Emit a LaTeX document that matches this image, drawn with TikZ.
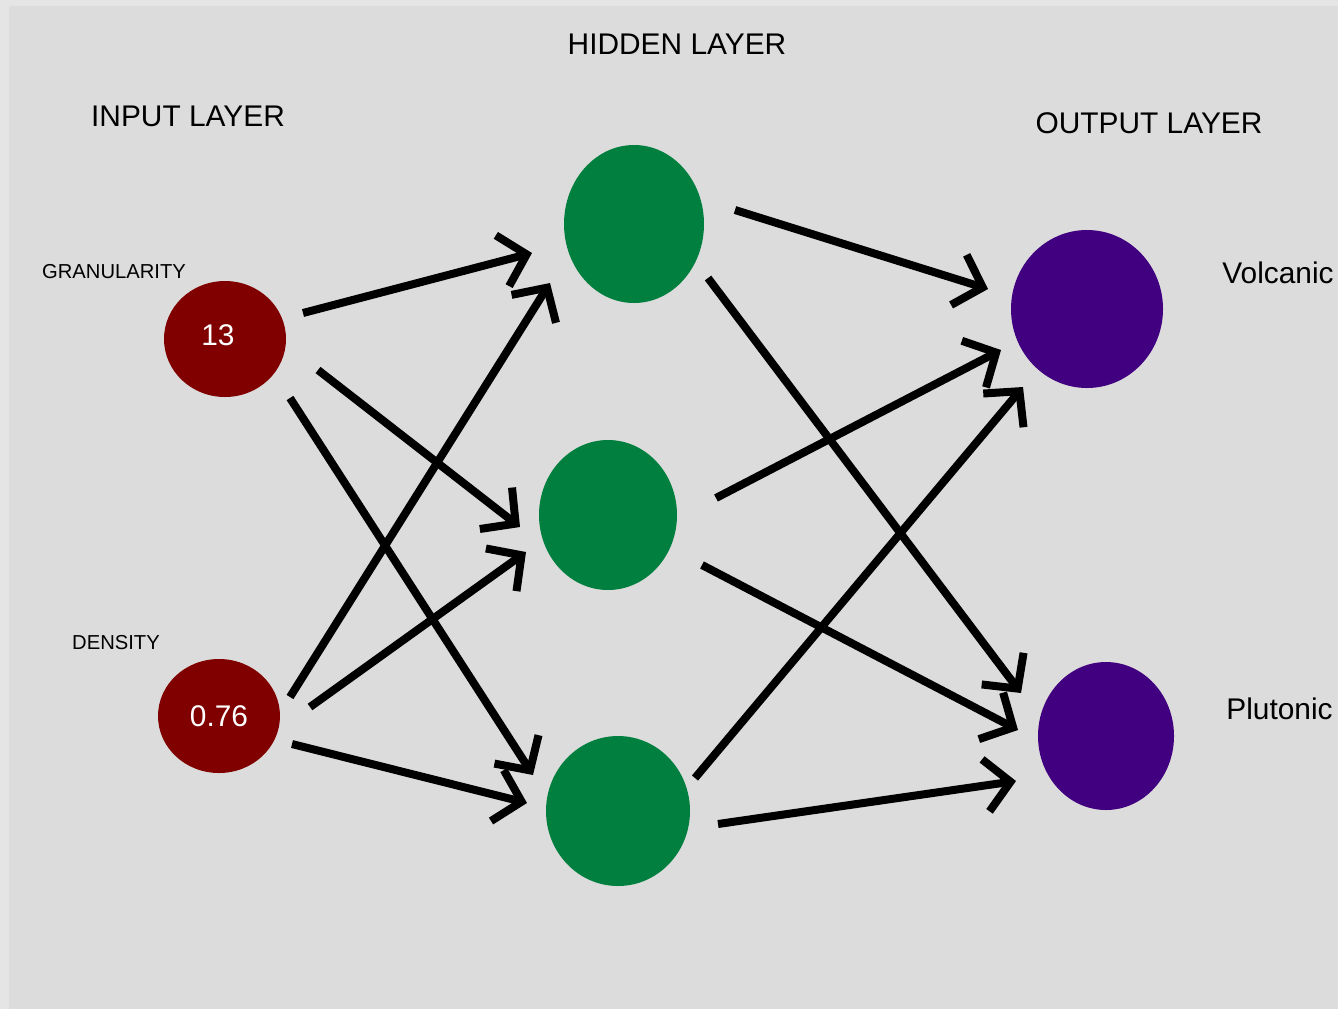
\documentclass[tikz,border=0pt]{standalone}
\usepackage{fontspec}
\setmainfont{Liberation Sans}
\usetikzlibrary{shapes.geometric,arrows.meta,calc}
\definecolor{bgray}{HTML}{DCDCDC}
\definecolor{bedge}{HTML}{E5E5E5}
\definecolor{inred}{HTML}{800000}
\definecolor{hidgreen}{HTML}{007F3F}
\definecolor{outpurple}{HTML}{40007F}
\newcommand{\bigtxt}{\fontsize{17}{20}\selectfont}
\newcommand{\smalltxt}{\fontsize{11.5}{13}\selectfont}
\begin{document}
\begin{tikzpicture}[x=0.02cm,y=-0.02cm,
	neuron/.style={ellipse,inner sep=0pt,draw=none},
	inp/.style={neuron,fill=inred,text=white,font=\bigtxt},
	hid/.style={neuron,fill=hidgreen},
	outp/.style={neuron,fill=outpurple},
	title/.style={inner sep=0pt,font=\bigtxt},
	conn/.style={line width=0.16cm,-{Straight Barb[length=0.5cm,width=1.05cm]}}]
	\useasboundingbox (0,0) rectangle (1338,1008);
	% background
	\fill[bgray] (-10,-10) rectangle (1350,1020);
	\fill[bedge] (-10,-10) rectangle (9,1020);
	\fill[bedge] (-10,-10) rectangle (1350,6);
	% titles
	\node[title] (thid) at (677,44) {HIDDEN LAYER};
	\node[title] (tinp) at (188,116) {INPUT LAYER};
	\node[title] (tout) at (1149,123) {OUTPUT LAYER};
	% Input layer
	\node[inp,minimum width=122*0.02cm,minimum height=116*0.02cm] (in1) at (225,339) {\raisebox{4pt}{13\hspace{8pt}}};
	\node[inp,minimum width=122*0.02cm,minimum height=114*0.02cm] (in2) at (219,716) {0.76};
	\node[inner sep=0pt,font=\smalltxt] (lgran) at (114,272) {GRANULARITY};
	\node[inner sep=0pt,font=\smalltxt] (ldens) at (116,643) {DENSITY};
	% Hidden layer
	\node[hid,minimum width=140*0.02cm,minimum height=158*0.02cm] (hid1) at (634,224) {};
	\node[hid,minimum width=138*0.02cm,minimum height=150*0.02cm] (hid2) at (608,515) {};
	\node[hid,minimum width=144*0.02cm,minimum height=150*0.02cm] (hid3) at (618,811) {};
	% Output layer
	\node[outp,minimum width=152*0.02cm,minimum height=158*0.02cm] (out1) at (1087,309) {};
	\node[outp,minimum width=136*0.02cm,minimum height=148*0.02cm] (out2) at (1106,736) {};
	\node[title,anchor=west] (lvolc) at (1222,273) {Volcanic};
	\node[title,anchor=west] (lplut) at (1226,709) {Plutonic};
	% input -> hidden
	\draw[conn] ($(in1)+(78,-26)$) -- ($(hid1)+(-102,29)$);
	\draw[conn] ($(in1)+(93,31)$) -- ($(hid2)+(-88,12)$);
	\draw[conn] ($(in1)+(65,59)$) -- ($(hid3)+(-85,-36)$);
	\draw[conn] ($(in2)+(71,-19)$) -- ($(hid1)+(-84,59)$);
	\draw[conn] ($(in2)+(91,-9)$) -- ($(hid2)+(-82,37)$);
	\draw[conn] ($(in2)+(73,28)$) -- ($(hid3)+(-91,-8)$);
	% hidden -> output
	\draw[conn] ($(hid1)+(101,-14)$) -- ($(out1)+(-99,-20)$);
	\draw[conn] ($(hid1)+(74,54)$) -- ($(out2)+(-85,-43)$);
	\draw[conn] ($(hid2)+(108,-17)$) -- ($(out1)+(-86,41)$);
	\draw[conn] ($(hid2)+(94,50)$) -- ($(out2)+(-88,-6)$);
	\draw[conn] ($(hid3)+(77,-33)$) -- ($(out1)+(-64,78)$);
	\draw[conn] ($(hid3)+(100,13)$) -- ($(out2)+(-90,45)$);
\end{tikzpicture}
\end{document}
